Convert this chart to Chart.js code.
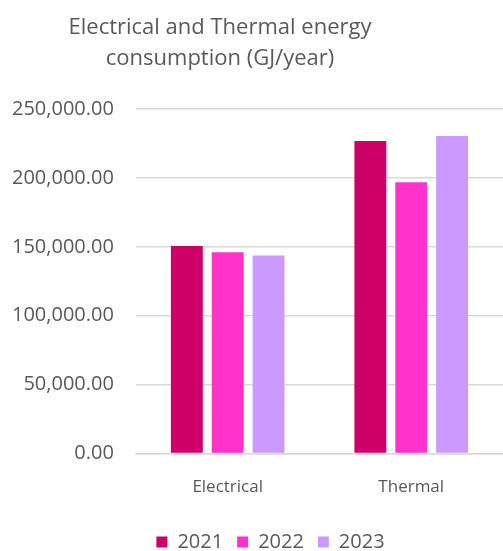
<!DOCTYPE html>
<html>
<head>
<meta charset="utf-8">
<script src="https://cdn.jsdelivr.net/npm/chart.js@4"></script>
<style>
  html, body { margin: 0; padding: 0; background: #fff; }
  #wrap { width: 503px; height: 551px; position: relative; }
</style>
</head>
<body>
<div id="wrap"><canvas id="energyChart"></canvas></div>
<script>
// chart data
const categories = ['Electrical', 'Thermal'];
const years = ['2021', '2022', '2023'];
const values2021 = [150700, 226800];
const values2022 = [146000, 196900];
const values2023 = [143800, 230400];
const titleLines = ['Electrical and Thermal energy', 'consumption (GJ/year)'];

const textColor = '#595959';
const fontFamily = "'Open Sans', sans-serif";

// title drawn by hand so it can sit left of canvas centre like the original
const titlePlugin = {
  id: 'offsetTitle',
  afterLayout(chart) {
    // the original legend sits a bit right of centre
    chart.legend.left += 24;
    chart.legend.right += 24;
  },
  afterDraw(chart) {
    const ctx = chart.ctx;
    ctx.save();
    ctx.fillStyle = textColor;
    ctx.font = "22px " + fontFamily;
    ctx.textAlign = 'center';
    ctx.textBaseline = 'alphabetic';
    ctx.fillText(titleLines[0], 220, 34);
    ctx.fillText(titleLines[1], 220, 65);
    ctx.restore();
  }
};

const ctx = document.getElementById('energyChart').getContext('2d');
const chart = new Chart(ctx, {
  type: 'bar',
  data: {
    labels: categories,
    datasets: [
      { label: years[0], data: values2021, backgroundColor: '#CC0066' },
      { label: years[1], data: values2022, backgroundColor: '#FF33CC' },
      { label: years[2], data: values2023, backgroundColor: '#CC99FF' }
    ]
  },
  options: {
    responsive: true,
    maintainAspectRatio: false,
    animation: false,
    layout: { padding: { top: 109, left: -10, right: 0, bottom: -11 } },
    datasets: {
      bar: { categoryPercentage: 0.668, barPercentage: 0.78 }
    },
    plugins: {
      legend: {
        position: 'bottom',
        labels: {
          color: textColor,
          font: { family: fontFamily, size: 20 },
          boxWidth: 11,
          boxHeight: 11,
          padding: 14
        }
      },
      title: { display: false },
      tooltip: { enabled: false }
    },
    scales: {
      x: {
        grid: { display: false },
        border: { display: true, color: '#d9d9d9', width: 1.5 },
        ticks: { color: textColor, font: { family: fontFamily, size: 17 }, padding: 15 },
        afterFit: s => { s.height += 6; }
      },
      y: {
        min: 0,
        max: 250000,
        border: { display: false },
        grid: { color: '#d9d9d9', lineWidth: 1.5, drawTicks: false },
        ticks: {
          stepSize: 50000,
          color: textColor,
          font: { family: fontFamily, size: 20 },
          padding: 22,
          callback: v => v.toLocaleString('en-US', { minimumFractionDigits: 2, maximumFractionDigits: 2 })
        }
      }
    }
  },
  plugins: [titlePlugin]
});
</script>
</body>
</html>
